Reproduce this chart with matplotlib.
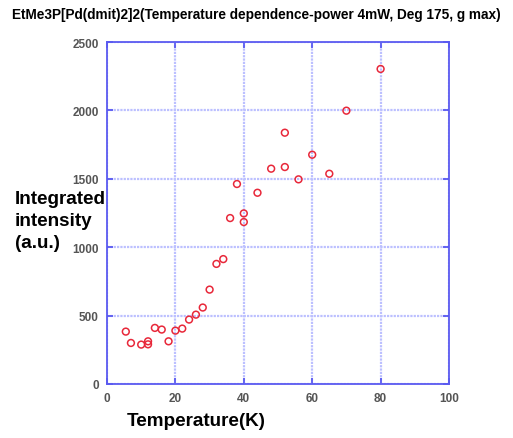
import matplotlib
matplotlib.use("Agg")
import matplotlib.pyplot as plt

temperature = [5.5, 7, 10, 12, 12, 14, 16, 18, 20, 22, 24, 26, 28, 30, 32, 34, 36, 38,
               40, 40, 44, 48, 52, 52, 56, 60, 65, 70, 80]
intensity = [383, 300, 288, 312, 290, 410, 398, 312, 390, 405, 471, 507, 559, 690, 878,
             913, 1213, 1462, 1247, 1184, 1398, 1574, 1837, 1586, 1496, 1676, 1537, 1998, 2303]
x_ticks = [0, 20, 40, 60, 80, 100]
y_ticks = [0, 500, 1000, 1500, 2000, 2500]
ylabel_lines = ['Integrated', 'intensity', '(a.u.)']

plt.rcParams['font.family'] = ['Liberation Sans', 'DejaVu Sans']

fig = plt.figure(figsize=(5.13, 4.39), dpi=100)
ax = fig.add_axes([107/513, 54/439, 342/513, 342/439])

ax.scatter(temperature, intensity, s=24, facecolors='none', edgecolors='#e8283a',
           linewidths=1.1, zorder=3)

ax.set_xlim(0, 100)
ax.set_ylim(0, 2500)
ax.set_xticks(x_ticks)
ax.set_yticks(y_ticks)
ax.grid(True, color='#bcc0ff', linestyle=(0, (1, 0.5)), linewidth=1.6)
for s in ax.spines.values():
    s.set_color('#5a5af0')
    s.set_linewidth(1.3)
ax.tick_params(direction='in', length=4, width=1.3, color='#5a5af0',
               top=True, right=True, labelsize=8.5, labelcolor='#555555', pad=6)
for lab in ax.get_xticklabels() + ax.get_yticklabels():
    lab.set_fontweight('bold')

fig.text(0.5, 1 - 15/439, 'EtMe3P[Pd(dmit)2]2(Temperature dependence-power 4mW, Deg 175, g max)',
         ha='center', va='center', fontsize=9.8, fontweight='bold')
for i, line in enumerate(ylabel_lines):
    fig.text(15/513, 1 - (200 + 22 * i)/439, line, ha='left', va='center',
             fontsize=13.6, fontweight='bold')
fig.text(196/513, 1 - 422/439, 'Temperature(K)', ha='center', va='center',
         fontsize=13.6, fontweight='bold')

fig.savefig('out.png', dpi=100)
